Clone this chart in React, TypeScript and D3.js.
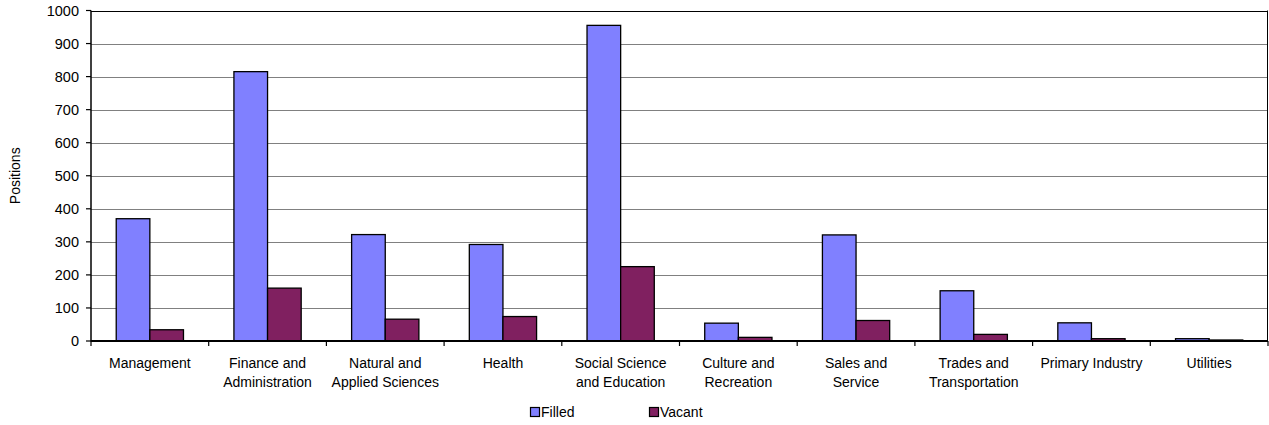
import React from "react";
import * as d3 from "d3";

const categories: string[][] = [
  ["Management"],
  ["Finance and", "Administration"],
  ["Natural and", "Applied Sciences"],
  ["Health"],
  ["Social Science", "and Education"],
  ["Culture and", "Recreation"],
  ["Sales and", "Service"],
  ["Trades and", "Transportation"],
  ["Primary Industry"],
  ["Utilities"],
];
const filled: number[] = [370, 815, 322, 292, 955, 54, 321, 152, 55, 7];
const vacant: number[] = [34, 160, 66, 74, 225, 11, 62, 20, 7, 3];
const seriesNames: string[] = ["Filled", "Vacant"];
const seriesColors: string[] = ["#8080ff", "#802060"];
const yTicks: number[] = [0, 100, 200, 300, 400, 500, 600, 700, 800, 900, 1000];

const W = 1269;
const H = 425;
const left = 91;
const right = 1268;
const top = 10.5;
const bottom = 341;
const font = "'Liberation Sans', Arial, sans-serif";

export default function App() {
  const x = d3
    .scaleBand<number>()
    .domain(d3.range(categories.length))
    .range([left, right]);
  const xs = d3
    .scaleBand<number>()
    .domain([0, 1])
    .range([0, x.bandwidth()])
    .paddingInner(0)
    .paddingOuter(0.75);
  const y = d3.scaleLinear().domain([0, 1000]).range([bottom, top]);
  const series = [filled, vacant];

  return (
    <svg
      width={W}
      height={H}
      style={{ position: "absolute", left: 0, top: 0, background: "#fff" }}
      fontFamily={font}
    >
      {/* gridlines */}
      {yTicks.slice(1).map((t) => (
        <line
          key={t}
          x1={left}
          x2={right}
          y1={Math.round(y(t)) + 0.5}
          y2={Math.round(y(t)) + 0.5}
          stroke={t === 1000 ? "#000" : "#808080"}
          strokeWidth={1}
        />
      ))}
      {/* right frame */}
      <line x1={right - 0.5} x2={right - 0.5} y1={top} y2={bottom} stroke="#000" />

      {/* bars */}
      {series.map((vals, s) =>
        vals.map((v, i) => {
          const bx = (x(i) as number) + (xs(s) as number);
          return (
            <rect
              key={`${s}-${i}`}
              x={bx}
              y={y(v)}
              width={xs.bandwidth()}
              height={bottom - y(v)}
              fill={seriesColors[s]}
              stroke="#000"
              strokeWidth={1.3}
            />
          );
        })
      )}

      {/* y axis */}
      <line x1={left} x2={left} y1={top} y2={bottom + 0.5} stroke="#000" strokeWidth={1.5} />
      {yTicks.map((t) => (
        <g key={t}>
          <line x1={left - 5} x2={left} y1={y(t)} y2={y(t)} stroke="#000" strokeWidth={1.2} />
          <text
            x={79}
            y={y(t)}
            dy="0.35em"
            textAnchor="end"
            fontSize={14.5}
            fill="#000"
          >
            {t}
          </text>
        </g>
      ))}

      {/* x axis */}
      <line x1={left} x2={right} y1={bottom} y2={bottom} stroke="#000" strokeWidth={2} />
      {d3.range(categories.length + 1).map((i) => {
        const tx = i < categories.length ? (x(i) as number) : right;
        return (
          <line key={i} x1={tx} x2={tx} y1={bottom} y2={bottom + 5} stroke="#000" strokeWidth={1.2} />
        );
      })}
      {categories.map((lines, i) => (
        <text
          key={i}
          x={(x(i) as number) + x.bandwidth() / 2}
          y={363}
          dy="0.35em"
          textAnchor="middle"
          fontSize={14}
          fill="#000"
        >
          {lines.map((ln, k) => (
            <tspan key={k} x={(x(i) as number) + x.bandwidth() / 2} dy={k === 0 ? "0.35em" : 19}>
              {ln}
            </tspan>
          ))}
        </text>
      ))}

      {/* axis title */}
      <text
        transform={`translate(20,${(top + bottom) / 2}) rotate(-90)`}
        textAnchor="middle"
        fontSize={14}
        fill="#000"
      >
        Positions
      </text>

      {/* legend */}
      {seriesNames.map((name, s) => {
        const lx = [530, 649][s];
        return (
          <g key={name}>
            <rect x={lx + 0.5} y={407.5} width={9} height={9} fill={seriesColors[s]} stroke="#000" strokeWidth={1.2} />
            <text x={lx + 11} y={412} dy="0.35em" fontSize={14} fill="#000">
              {name}
            </text>
          </g>
        );
      })}
    </svg>
  );
}
